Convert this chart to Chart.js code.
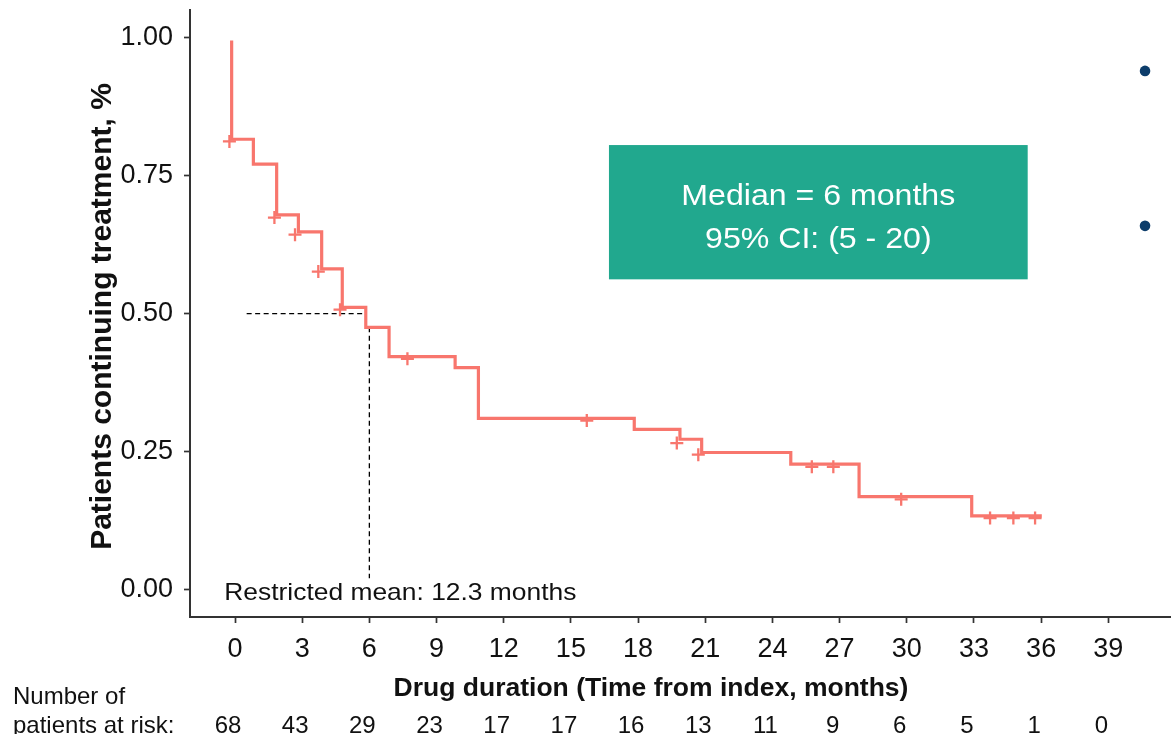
<!DOCTYPE html>
<html>
<head>
<meta charset="utf-8">
<script src="https://cdn.jsdelivr.net/npm/chart.js@4.4.1/dist/chart.umd.min.js"></script>
<style>
  html, body { margin: 0; padding: 0; background: #ffffff; overflow: hidden; }
  canvas { display: block; }
</style>
</head>
<body>
<canvas id="c" width="1171" height="734"></canvas>
<script>
// ---- data ----
const kmTimes = [-0.15, -0.15, 0.82, 1.86, 2.83, 3.87, 4.79, 5.84, 6.88, 9.83, 10.87, 17.83, 19.87, 20.84, 24.82, 27.87, 32.90, 36.03];
const kmSurv  = [0.995, 0.816, 0.771, 0.679, 0.648, 0.581, 0.511, 0.475, 0.422, 0.402, 0.310, 0.290, 0.272, 0.248, 0.227, 0.168, 0.133, 0.133];

const censorTimes = [-0.25, 1.76, 2.68, 3.72, 4.69, 7.70, 15.71, 19.73, 20.69, 25.76, 26.72, 29.75, 33.72, 34.76, 35.73];
const censorSurv  = [0.812, 0.674, 0.643, 0.576, 0.507, 0.418, 0.306, 0.265, 0.244, 0.222, 0.222, 0.163, 0.129, 0.129, 0.129];

const extraPointTimes  = [40.64, 40.64];
const extraPointValues = [0.940, 0.659];

const medianHTimes = [0.52, 5.81];
const medianHSurv  = [0.5, 0.5];
const medianVTimes = [6, 6];
const medianVSurv  = [0.475, 0.02];

const xTickValues = [0, 3, 6, 9, 12, 15, 18, 21, 24, 27, 30, 33, 36, 39];
const yTickValues = [0, 0.25, 0.5, 0.75, 1.0];
const atRiskCounts = [68, 43, 29, 23, 17, 17, 16, 13, 11, 9, 6, 5, 1, 0];

const medianLabel = ["Median = 6 months", "95% CI: (5 - 20)"];
const restrictedMeanLabel = "Restricted mean: 12.3 months";
const xTitle = "Drug duration (Time from index, months)";
const yTitle = "Patients continuing treatment, %";
const riskTitle = ["Number of", "patients at risk:"];

// ---- styling ----
const FONT = "'Liberation Sans', Arial, Helvetica, sans-serif";
const KM_COLOR = "#F8766D";
const BOX_COLOR = "#21A88E";
const DOT_COLOR = "#0D3D6B";
const AXIS_COLOR = "#333333";

function pts(xs, ys) { return xs.map((x, i) => ({ x: x, y: ys[i] })); }

function drawText(ctx, text, x, y, font, align, sx) {
  ctx.save();
  ctx.font = font;
  ctx.textAlign = align;
  ctx.textBaseline = "alphabetic";
  ctx.translate(x, y);
  ctx.scale(sx || 1, 1);
  ctx.fillText(text, 0, 0);
  ctx.restore();
}

const annotationPlugin = {
  id: "kmAnnotations",
  beforeDatasetsDraw(chart) {
    const ctx = chart.ctx, xs = chart.scales.x, ys = chart.scales.y;
    // median box (data-space extents)
    const x0 = xs.getPixelForValue(16.70), x1 = xs.getPixelForValue(35.40);
    const y0 = ys.getPixelForValue(0.8055), y1 = ys.getPixelForValue(0.562);
    ctx.save();
    ctx.fillStyle = BOX_COLOR;
    ctx.fillRect(x0, y0, x1 - x0, y1 - y0);
    ctx.fillStyle = "#ffffff";
    const cx = (x0 + x1) / 2, cy = (y0 + y1) / 2;
    drawText(ctx, medianLabel[0], cx, cy - 7, "30px " + FONT, "center", 1.07);
    drawText(ctx, medianLabel[1], cx, cy + 36, "30px " + FONT, "center", 1.07);
    ctx.restore();
  },
  afterDraw(chart) {
    const ctx = chart.ctx, xs = chart.scales.x, ys = chart.scales.y;
    ctx.save();
    ctx.fillStyle = "#111111";
    // restricted mean label
    drawText(ctx, restrictedMeanLabel, xs.getPixelForValue(-0.48), ys.getPixelForValue(0) + 11, "24px " + FONT, "left", 1.1);
    // x axis title
    drawText(ctx, xTitle, 651, 696, "bold 26.5px " + FONT, "center", 1);
    // y axis title (rotated)
    ctx.save();
    ctx.translate(111, (chart.chartArea.top + chart.chartArea.bottom) / 2 + 3);
    ctx.rotate(-Math.PI / 2);
    ctx.font = "bold 30px " + FONT;
    ctx.textAlign = "center";
    ctx.textBaseline = "alphabetic";
    ctx.fillText(yTitle, 0, 0);
    ctx.restore();
    // risk table
    drawText(ctx, riskTitle[0], 13, 704, "24px " + FONT, "left", 1);
    drawText(ctx, riskTitle[1], 13, 733, "24px " + FONT, "left", 1);
    xTickValues.forEach((t, i) => {
      drawText(ctx, String(atRiskCounts[i]), xs.getPixelForValue(t) - 7, 733, "24px " + FONT, "center", 1);
    });
    ctx.restore();
  }
};

new Chart(document.getElementById("c"), {
  type: "scatter",
  data: {
    datasets: [
      {
        label: "KM",
        data: pts(kmTimes, kmSurv),
        showLine: true,
        stepped: "before",
        borderColor: KM_COLOR,
        borderWidth: 3.2,
        pointRadius: 0,
        fill: false
      },
      {
        label: "Censored",
        data: pts(censorTimes, censorSurv),
        showLine: false,
        pointStyle: "cross",
        pointRadius: 6.5,
        pointBorderWidth: 2.3,
        borderColor: KM_COLOR,
        backgroundColor: KM_COLOR
      },
      {
        label: "Points",
        data: pts(extraPointTimes, extraPointValues),
        showLine: false,
        pointStyle: "circle",
        pointRadius: 5.3,
        pointBorderWidth: 0,
        borderColor: DOT_COLOR,
        backgroundColor: DOT_COLOR
      },
      {
        label: "MedianH",
        data: pts(medianHTimes, medianHSurv),
        showLine: true,
        borderColor: "#000000",
        borderWidth: 1.3,
        borderDash: [5, 3.5],
        pointRadius: 0
      },
      {
        label: "MedianV",
        data: pts(medianVTimes, medianVSurv),
        showLine: true,
        borderColor: "#000000",
        borderWidth: 1.3,
        borderDash: [5, 3.5],
        pointRadius: 0
      }
    ]
  },
  options: {
    responsive: false,
    animation: false,
    devicePixelRatio: 1,
    layout: { autoPadding: false, padding: { top: 10, left: 0, right: 0, bottom: 0 } },
    plugins: { legend: { display: false }, tooltip: { enabled: false }, title: { display: false } },
    scales: {
      x: {
        type: "linear",
        min: -2.01,
        max: 41.8,
        afterBuildTicks: (s) => { s.ticks = xTickValues.map(v => ({ value: v })); },
        afterFit: (s) => { s.height = 117; s.paddingLeft = 0; s.paddingRight = 0; },
        ticks: {
          font: { family: FONT, size: 27 },
          color: "#111111",
          padding: 10,
          maxRotation: 0,
          autoSkip: false,
          callback: (v) => String(v)
        },
        grid: { drawOnChartArea: false, drawTicks: true, tickLength: 6, tickColor: AXIS_COLOR, tickWidth: 1.7 },
        border: { display: true, color: AXIS_COLOR, width: 2 }
      },
      y: {
        type: "linear",
        min: -0.0503,
        max: 1.0504,
        afterBuildTicks: (s) => { s.ticks = yTickValues.map(v => ({ value: v })); },
        afterFit: (s) => { s.width = 190; s.paddingTop = 0; s.paddingBottom = 0; },
        ticks: {
          font: { family: FONT, size: 27 },
          color: "#111111",
          padding: 11,
          autoSkip: false,
          callback: (v) => Number(v).toFixed(2)
        },
        grid: { drawOnChartArea: false, drawTicks: true, tickLength: 6, tickColor: AXIS_COLOR, tickWidth: 1.7 },
        border: { display: true, color: AXIS_COLOR, width: 2 }
      }
    }
  },
  plugins: [annotationPlugin]
});
</script>
</body>
</html>
